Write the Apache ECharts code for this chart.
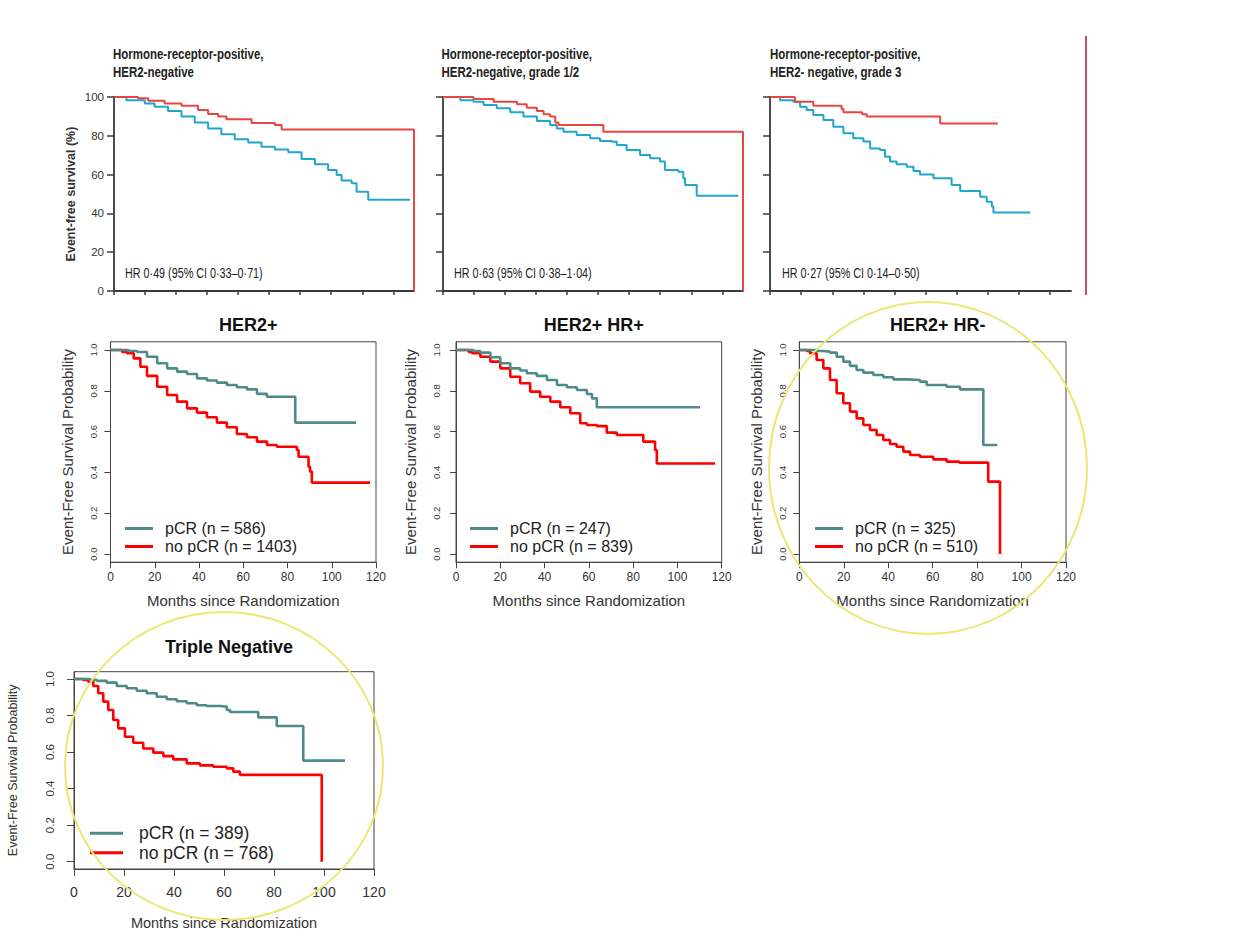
<!DOCTYPE html>
<html><head><meta charset="utf-8">
<script src="https://cdn.jsdelivr.net/npm/echarts@6/dist/echarts.min.js"></script>
<style>html,body{margin:0;padding:0;background:#fff}#c{width:1260px;height:945px}</style>
</head><body><div id="c"></div>
<script>
// ---------- DATA ----------
const topTitles = ['Hormone-receptor-positive,\nHER2-negative', 'Hormone-receptor-positive,\nHER2-negative, grade 1/2', 'Hormone-receptor-positive,\nHER2- negative, grade 3'];
const topHR = ['HR 0·49 (95% CI 0·33–0·71)', 'HR 0·63 (95% CI 0·38–1·04)', 'HR 0·27 (95% CI 0·14–0·50)'];
const topYName = 'Event-free survival (%)';
const topYTicks = [0, 20, 40, 60, 80, 100];
const topXTicks = [0, 12, 24, 36, 48, 60, 72, 84, 96, 108];

const rTitles = ['HER2+', 'HER2+ HR+', 'HER2+ HR-', 'Triple Negative'];
const pcrLabels = ['pCR (n = 586)', 'pCR (n = 247)', 'pCR (n = 325)', 'pCR (n = 389)'];
const noPcrLabels = ['no pCR (n = 1403)', 'no pCR (n = 839)', 'no pCR (n = 510)', 'no pCR (n = 768)'];
const rXName = 'Months since Randomization';
const rYName = 'Event-Free Survival Probability';
const probTicks = [0, 0.2, 0.4, 0.6, 0.8, 1.0];
const monthTicks = [0, 20, 40, 60, 80, 100, 120];

// top row: [months, EFS %]
const hrHer2negPcr = [[0,100],[9.3,99.3],[13.2,98.1],[19.6,96.7],[26.1,95.5],[32.5,93.3],[36.4,91.2],[40.3,89.9],[43.5,88.5],[53.2,86.6],[62.2,85.6],[64.8,83.3],[116,0]];
const hrHer2negNoPcr = [[0,100],[4.8,98.3],[11.9,96.7],[15.7,95.0],[20.9,92.8],[26.1,89.9],[31.2,86.9],[36.4,83.8],[41.5,80.8],[46.7,78.2],[51.9,76.6],[57.0,74.4],[62.2,73.0],[67.4,71.5],[72.5,68.0],[77.7,65.3],[82.8,62.4],[86.1,59.8],[88.0,56.9],[91.9,55.5],[93.8,51.2],[98.3,47.1],[114.5,47.1]];
const g12Pcr = [[0,100],[11.8,99.0],[19.6,97.6],[28.6,96.2],[32.4,94.5],[36.3,92.8],[38.9,91.1],[41.4,89.9],[43.4,86.9],[44.7,85.6],[62.0,82.1],[116,0]];
const g12NoPcr = [[0,100],[6.7,98.3],[11.8,97.6],[15.7,95.9],[20.8,94.2],[26.0,92.1],[31.1,89.9],[36.3,87.6],[41.4,85.6],[44.0,83.8],[46.6,82.1],[51.7,80.4],[56.9,78.7],[60.7,77.3],[65.3,76.9],[67.2,75.3],[71.0,72.7],[76.2,70.1],[80.1,68.4],[83.9,66.7],[85.8,62.4],[91.0,61.5],[92.9,58.1],[93.6,54.6],[98.1,49.1],[114.2,49.1]];
const g3Pcr = [[0,100],[9.6,97.6],[16.7,95.5],[27.6,93.8],[28.3,92.1],[35.5,91.1],[37.3,89.9],[65.6,86.4],[87.8,86.4]];
const g3NoPcr = [[0,100],[3.9,98.3],[9.0,97.6],[11.6,95.0],[14.1,93.3],[16.7,90.7],[20.6,88.1],[24.4,84.7],[28.3,81.3],[32.1,78.7],[36.0,77.0],[38.6,73.5],[42.4,72.7],[44.3,69.2],[46.3,66.7],[48.8,65.3],[52.7,64.1],[55.3,61.9],[57.8,60.1],[63.0,58.1],[70.0,54.6],[73.3,51.5],[81.0,48.6],[83.5,46.0],[85.5,43.5],[86.1,40.4],[100.3,40.4]];

// bottom rows: [months, probability]
const her2Pcr = [[0,1],[8.3,0.995],[12.0,0.99],[16.5,0.967],[21.1,0.935],[25.6,0.91],[30.1,0.894],[34.6,0.882],[39.1,0.861],[43.6,0.85],[48.1,0.84],[52.6,0.828],[57.1,0.817],[61.7,0.807],[66.2,0.785],[70.7,0.771],[83.5,0.644],[111,0.644]];
const her2NoPcr = [[0,1],[5.3,0.99],[7.5,0.984],[10.5,0.959],[13.5,0.918],[16.5,0.873],[21.1,0.82],[25.6,0.779],[30.1,0.747],[34.6,0.714],[39.1,0.693],[43.6,0.67],[48.1,0.644],[52.6,0.621],[57.1,0.588],[61.7,0.572],[66.2,0.551],[70.7,0.534],[75.2,0.526],[84.2,0.51],[85.0,0.477],[89.5,0.428],[90.2,0.404],[91.0,0.35],[117.3,0.35]];
const hrPosPcr = [[0,1],[8.0,0.995],[11.0,0.987],[15.5,0.964],[20.0,0.935],[24.5,0.91],[29.0,0.899],[32.0,0.886],[36.5,0.873],[41.1,0.853],[45.6,0.828],[50.1,0.817],[54.6,0.804],[59.1,0.784],[61.4,0.763],[63.6,0.719],[110.2,0.719]];
const hrPosNoPcr = [[0,1],[5.7,0.99],[7.2,0.984],[11.0,0.967],[15.5,0.943],[20.0,0.91],[24.5,0.869],[29.0,0.837],[33.5,0.796],[38.0,0.771],[42.6,0.747],[47.1,0.719],[51.6,0.69],[56.1,0.641],[59.1,0.632],[63.6,0.627],[68.1,0.595],[72.6,0.583],[84.6,0.551],[89.9,0.51],[90.7,0.444],[117,0.444]];
const hrNegPcr = [[0,1],[7.8,0.995],[10.8,0.992],[13.8,0.987],[16.8,0.967],[19.8,0.943],[22.8,0.922],[25.8,0.902],[28.8,0.889],[33.3,0.877],[37.8,0.866],[42.3,0.856],[48.3,0.853],[54.3,0.845],[57.3,0.828],[66.3,0.82],[72.3,0.807],[82.8,0.534],[89.1,0.534]];
const hrNegNoPcr = [[0,1],[3.3,0.995],[4.8,0.984],[7.8,0.951],[10.8,0.91],[13.8,0.853],[16.8,0.788],[19.8,0.739],[22.8,0.698],[25.8,0.665],[28.8,0.632],[31.8,0.608],[34.8,0.583],[37.8,0.559],[40.8,0.539],[43.8,0.526],[46.8,0.502],[49.8,0.485],[54.3,0.477],[60.3,0.464],[66.3,0.453],[72.0,0.448],[85.0,0.355],[90.3,0]];
const tnPcr = [[0,1],[6.4,0.995],[9.1,0.99],[13.1,0.98],[17.1,0.962],[21.1,0.949],[25.1,0.936],[29.1,0.922],[33.1,0.903],[37.1,0.889],[41.1,0.878],[45.1,0.867],[49.1,0.856],[53.1,0.852],[58.4,0.849],[61.1,0.83],[62.4,0.819],[73.7,0.79],[81.1,0.743],[91.7,0.553],[108.4,0.553]];
const tnNoPcr = [[0,1],[3.7,0.995],[5.7,0.985],[7.7,0.962],[9.7,0.922],[11.7,0.876],[13.7,0.83],[15.7,0.776],[17.7,0.73],[20.4,0.684],[23.7,0.651],[27.7,0.62],[31.7,0.597],[35.7,0.578],[39.7,0.56],[45.1,0.538],[50.4,0.527],[55.7,0.52],[61.1,0.511],[63.7,0.493],[66.4,0.475],[99.1,0]];

// ---------- LAYOUT / STYLE ----------
const SANS = '"Liberation Sans", Arial, sans-serif';
const topGrids = [
  {left:114, top:97, width:300, height:194},
  {left:443, top:97, width:300, height:194},
  {left:770, top:97, width:301, height:194}
];
const topTextX = [113, 441.5, 770];
const hrTextX = [125, 454, 782];
const rGrids = [
  {left:110.5, top:341.8, width:265.5, height:220.4},
  {left:456, top:341.8, width:265.7, height:220.4},
  {left:799.3, top:341.8, width:266.7, height:220.4},
  {left:74, top:671.7, width:300, height:197.3}
];
const topSeriesData = [[hrHer2negPcr, hrHer2negNoPcr],[g12Pcr, g12NoPcr],[g3Pcr, g3NoPcr]];
const rSeriesData = [[her2Pcr, her2NoPcr],[hrPosPcr, hrPosNoPcr],[hrNegPcr, hrNegNoPcr],[tnPcr, tnNoPcr]];
const TOP_RED = '#e8463f', TOP_BLUE = '#1fa6cb', R_TEAL = '#4f8a8b', R_RED = '#ff0000';

const grid = [], xAxis = [], yAxis = [], series = [], title = [], legend = [], graphic = [];

topGrids.forEach((g, i) => {
  grid.push(Object.assign({outerBoundsMode:'none', containLabel:false}, g));
  const idx = grid.length-1;
  xAxis.push({
    type:'value', gridIndex:idx, min:0, max:116,
    axisLine:{show:true, onZero:false, lineStyle:{color:'#3a3a3a', width:1.8}},
    axisTick:{show:true, customValues:topXTicks, length:4, lineStyle:{color:'#3a3a3a', width:1.5}},
    axisLabel:{show:false}, splitLine:{show:false}
  });
  yAxis.push({
    type:'value', gridIndex:idx, min:0, max:100, interval:20,
    axisLine:{show:true, onZero:false, lineStyle:{color:'#3a3a3a', width:1.8}},
    axisTick:{show:true, length:7, lineStyle:{color:'#3a3a3a', width:1.5}},
    axisLabel:{show:i===0, fontSize:11.5, color:'#333', margin:10, fontFamily:SANS},
    splitLine:{show:false},
    name: i===0 ? topYName : '', nameLocation:'middle', nameGap:37,
    nameTextStyle:{fontSize:12.5, fontWeight:'bold', color:'#333', fontFamily:SANS}
  });
  series.push({type:'line', name:'pCR ('+topTitles[i].replace('\n',' ')+')', xAxisIndex:idx, yAxisIndex:idx, step:'end', symbol:'none', clip:false,
    lineStyle:{color:TOP_RED, width:2}, itemStyle:{color:TOP_RED}, data:topSeriesData[i][0], z:3});
  series.push({type:'line', name:'no pCR ('+topTitles[i].replace('\n',' ')+')', xAxisIndex:idx, yAxisIndex:idx, step:'end', symbol:'none', clip:false,
    lineStyle:{color:TOP_BLUE, width:2}, itemStyle:{color:TOP_BLUE}, data:topSeriesData[i][1], z:2});
  // condensed panel headings and HR annotations (real text, narrowed horizontally)
  graphic.push({type:'text', x:topTextX[i], y:45, scaleX:0.82,
    style:{text:topTitles[i], fontFamily:SANS, fontSize:14, fontWeight:'bold', fill:'#222', lineHeight:18}});
  graphic.push({type:'text', x:hrTextX[i], y:266.5, scaleX:0.77,
    style:{text:topHR[i], fontFamily:SANS, fontSize:14, fill:'#222'}});
});

const LINE_ICON = 'path://M0,0 L30,0 L30,3 L0,3 Z';
const rCfg = [
  {xl:12, yl:9.5, ymargin:12, xmargin:9, tl:18, lg:16, xname:15, yname:15, xgap:31, ygap:35.5, tick:6, legendLeft:125, legendTop:520, iw:28, tp:7},
  {xl:12, yl:9.5, ymargin:15, xmargin:9, tl:18, lg:16, xname:15, yname:15, xgap:31, ygap:38, tick:6, legendLeft:470, legendTop:520, iw:28, tp:7},
  {xl:12, yl:9.5, ymargin:12, xmargin:9, tl:18, lg:16, xname:15, yname:15, xgap:31, ygap:35, tick:6, legendLeft:815, legendTop:520, iw:28, tp:7},
  {xl:14, yl:11.5, ymargin:18, xmargin:16, tl:18, lg:17.5, xname:14.5, yname:12.5, xgap:46, ygap:55, tick:7, legendLeft:90, legendTop:824, iw:33, tp:11}
];
rGrids.forEach((g, i) => {
  const c = rCfg[i];
  grid.push(Object.assign({outerBoundsMode:'none', containLabel:false, show:true, borderColor:'#444', borderWidth:1, backgroundColor:'transparent'}, g));
  const idx = grid.length-1;
  xAxis.push({
    type:'value', gridIndex:idx, min:0, max:120, interval:20,
    axisLine:{show:true, onZero:false, lineStyle:{color:'#444', width:1}},
    axisTick:{show:true, length:c.tick, lineStyle:{color:'#444'}},
    axisLabel:{fontSize:c.xl, color:'#333', margin:c.xmargin, fontFamily:SANS, showMinLabel:true, showMaxLabel:true},
    splitLine:{show:false},
    name:rXName, nameLocation:'middle', nameGap:c.xgap,
    nameTextStyle:{fontSize:c.xname, color:'#333', fontFamily:SANS}
  });
  yAxis.push({
    type:'value', gridIndex:idx, min:-0.04, max:1.04,
    axisLine:{show:true, onZero:false, lineStyle:{color:'#444', width:1}},
    axisTick:{show:true, length:c.tick, customValues:probTicks, lineStyle:{color:'#444'}},
    axisLabel:{customValues:probTicks, rotate:90, fontSize:c.yl, color:'#333', margin:c.ymargin, fontFamily:SANS,
      formatter:v => Number(v).toFixed(1)},
    splitLine:{show:false},
    name:rYName, nameLocation:'middle', nameGap:c.ygap,
    nameTextStyle:{fontSize:c.yname, color:'#333', fontFamily:SANS}
  });
  series.push({type:'line', name:pcrLabels[i], xAxisIndex:idx, yAxisIndex:idx, step:'end', symbol:'none', clip:false,
    lineStyle:{color:R_TEAL, width:2.6}, itemStyle:{color:R_TEAL}, data:rSeriesData[i][0], z:3});
  series.push({type:'line', name:noPcrLabels[i], xAxisIndex:idx, yAxisIndex:idx, step:'end', symbol:'none', clip:false,
    lineStyle:{color:R_RED, width:2.6}, itemStyle:{color:R_RED}, data:rSeriesData[i][1], z:2});
  title.push({text:rTitles[i], left:g.left + g.width/2, textAlign:'center', top:(i<3 ? 309.5 : 631),
    textStyle:{fontFamily:SANS, fontSize:c.tl, fontWeight:'bold', color:'#111', lineHeight:21}});
  legend.push({data:[pcrLabels[i], noPcrLabels[i]], orient:'vertical', left:c.legendLeft, top:c.legendTop,
    padding:0, itemGap:1, itemWidth:c.iw, itemHeight:3, icon:LINE_ICON, symbolKeepAspect:false, selectedMode:false,
    textStyle:{fontSize:c.lg, color:'#222', fontFamily:SANS, lineHeight:c.lg+1, padding:[0,0,0,c.tp]}});
});

graphic.push({type:'line', shape:{x1:1086, y1:36, x2:1086, y2:295}, style:{stroke:'#c64a7b', lineWidth:2}, z:50});
graphic.push({type:'ellipse', shape:{cx:928, cy:468, rx:159, ry:166}, style:{fill:'none', stroke:'#e9e873', lineWidth:2}, z:100});
graphic.push({type:'ellipse', shape:{cx:224, cy:766, rx:159, ry:154}, style:{fill:'none', stroke:'#e9e873', lineWidth:2}, z:100});

const chart = echarts.init(document.getElementById('c'), null, {renderer:'svg', width:1260, height:945});
chart.setOption({
  animation:false, backgroundColor:'#ffffff',
  grid, xAxis, yAxis, series, title, legend, graphic
});
</script></body></html>
